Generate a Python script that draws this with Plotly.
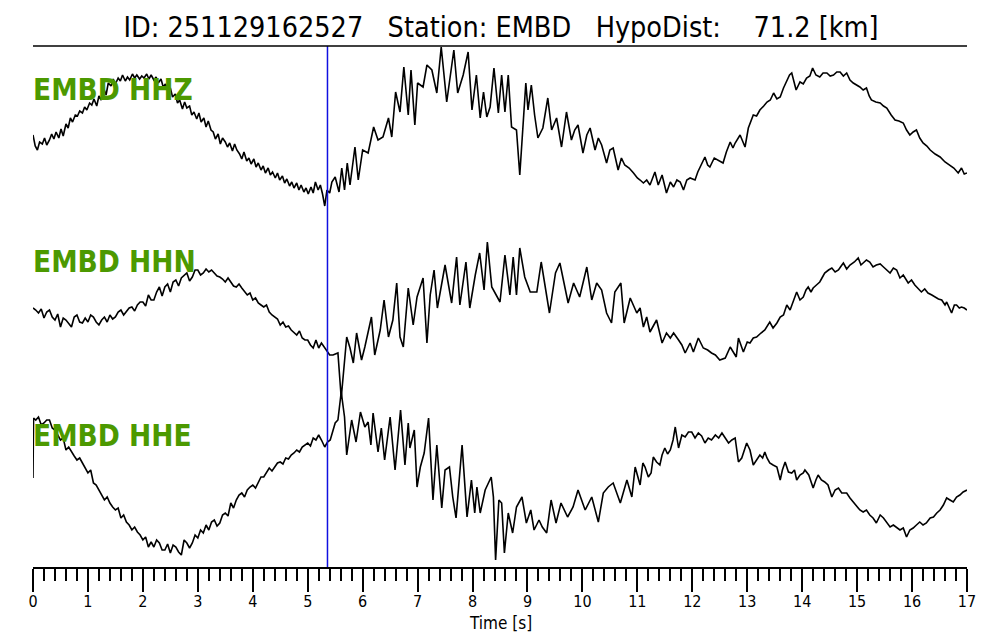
import plotly.graph_objects as go

# ---------------- data ----------------
EVENT_ID = "251129162527"
STATION = "EMBD"
HYPO_DIST_KM = 71.2
P_PICK_S = 5.36
CHANNELS = ["HHZ", "HHN", "HHE"]
X_TICKS = list(range(0, 18))
X_TITLE = "Time [s]"

# (time [s], amplitude [arb. units, up positive])
HHZ = [(0.00,-5),(0.04,-16),(0.08,-20),(0.12,-12),(0.17,-14),(0.21,-8),(0.25,-15),(0.30,-10),(0.34,-4),(0.38,-9),
(0.42,-2),(0.47,-8),(0.51,1),(0.55,-6),(0.60,6),(0.64,2),(0.68,12),(0.72,8),(0.77,15),(0.81,14),(0.85,19),(0.90,17),
(0.94,23),(0.98,20),(1.03,27),(1.07,25),(1.11,31),(1.16,24),(1.20,34),(1.24,30),(1.29,41),(1.33,35),(1.37,47),(1.42,44),
(1.46,51),(1.50,46),(1.55,52),(1.59,49),(1.63,55),(1.68,49),(1.72,53),(1.76,50),(1.81,56),(1.85,52),(1.89,55),(1.94,51),
(1.98,54),(2.02,52),(2.07,56),(2.11,51),(2.15,55),(2.20,50),(2.24,53),(2.28,47),(2.33,51),(2.37,43),(2.41,46),(2.46,39),
(2.50,42),(2.54,33),(2.59,36),(2.63,27),(2.67,30),(2.72,21),(2.76,28),(2.80,22),(2.85,24),(2.89,15),(2.93,18),(2.98,11),
(3.02,17),(3.06,8),(3.11,12),(3.15,3),(3.19,9),(3.24,0),(3.28,-2),(3.32,-9),(3.37,-4),(3.41,-14),(3.45,-8),(3.50,-12),
(3.54,-17),(3.58,-13),(3.63,-21),(3.67,-14),(3.71,-20),(3.76,-24),(3.80,-29),(3.84,-22),(3.89,-31),(3.93,-28),(3.97,-34),
(4.02,-29),(4.06,-37),(4.10,-33),(4.15,-40),(4.19,-36),(4.23,-43),(4.28,-38),(4.32,-45),(4.36,-42),(4.41,-48),(4.45,-43),
(4.49,-50),(4.54,-46),(4.58,-53),(4.62,-49),(4.67,-56),(4.71,-52),(4.75,-58),(4.80,-53),(4.84,-60),(4.88,-55),(4.93,-62),
(4.97,-58),(5.01,-64),(5.06,-57),(5.10,-63),(5.14,-52),(5.19,-60),(5.23,-55),(5.27,-64),(5.31,-76),(5.35,-60),(5.40,-63),
(5.44,-52),(5.50,-47),(5.57,-62),(5.62,-38),(5.67,-60),(5.72,-33),(5.77,-55),(5.86,-17),(5.92,-50),(6.00,-20),(6.10,-23),
(6.20,3),(6.28,-10),(6.37,-7),(6.47,12),(6.53,-7),(6.60,38),(6.68,18),(6.75,63),(6.83,15),(6.88,60),(6.95,5),(7.00,47),
(7.10,43),(7.17,65),(7.26,60),(7.35,37),(7.43,83),(7.53,28),(7.62,63),(7.66,80),(7.73,37),(7.83,55),(7.92,78),(7.99,20),
(8.07,55),(8.14,12),(8.20,38),(8.26,13),(8.32,23),(8.39,62),(8.47,17),(8.53,55),(8.59,18),(8.65,55),(8.71,3),(8.80,0),
(8.86,-45),(8.92,10),(8.97,47),(9.01,20),(9.07,45),(9.13,15),(9.19,-8),(9.28,2),(9.37,32),(9.44,0),(9.53,12),(9.62,-17),
(9.71,18),(9.80,-10),(9.86,0),(9.92,5),(10.01,-23),(10.08,-5),(10.14,2),(10.23,-20),(10.29,-8),(10.35,-15),(10.44,-33),
(10.50,-20),(10.56,-18),(10.65,-40),(10.71,-28),(10.77,-35),(10.85,-38),(10.93,-43),(11.00,-48),(11.05,-50),(11.11,-53),
(11.17,-50),(11.23,-55),(11.32,-42),(11.38,-55),(11.45,-45),(11.53,-63),(11.60,-52),(11.66,-57),(11.72,-50),(11.78,-52),
(11.84,-60),(11.90,-50),(11.96,-48),(12.05,-50),(12.10,-42),(12.14,-37),(12.23,-27),(12.28,-35),(12.32,-37),(12.40,-28),
(12.47,-30),(12.56,-33),(12.62,-22),(12.69,-12),(12.74,-18),(12.78,-13),(12.87,-5),(12.96,-17),(13.02,2),(13.08,10),
(13.11,15),(13.17,14),(13.23,20),(13.30,24),(13.36,28),(13.42,30),(13.48,37),(13.54,31),(13.60,33),(13.66,42),(13.72,50),
(13.77,55),(13.81,57),(13.89,40),(13.96,48),(14.02,46),(14.08,52),(14.14,54),(14.19,62),(14.25,55),(14.32,53),(14.38,57),
(14.45,57),(14.51,54),(14.57,55),(14.63,58),(14.69,58),(14.75,54),(14.81,57),(14.87,50),(14.93,47),(14.99,45),(15.05,43),
(15.11,40),(15.17,42),(15.22,34),(15.26,30),(15.34,28),(15.42,27),(15.48,24),(15.54,22),(15.62,15),(15.69,10),(15.76,9),
(15.84,7),(15.90,0),(15.96,-5),(16.02,-2),(16.08,0),(16.14,-8),(16.20,-13),(16.27,-16),(16.33,-20),(16.42,-24),(16.51,-27),
(16.60,-32),(16.69,-35),(16.76,-38),(16.84,-43),(16.90,-38),(16.95,-44),(17.00,-43)]

HHN = [(0.00,-8),(0.05,-10),(0.10,-13),(0.15,-9),(0.20,-18),(0.25,-12),(0.30,-10),(0.35,-17),(0.40,-20),(0.45,-14),
(0.50,-27),(0.55,-18),(0.60,-20),(0.65,-24),(0.70,-27),(0.75,-17),(0.80,-15),(0.85,-22),(0.90,-23),(0.95,-18),(1.00,-22),
(1.05,-15),(1.10,-17),(1.15,-22),(1.20,-25),(1.25,-20),(1.30,-17),(1.35,-22),(1.40,-15),(1.45,-19),(1.50,-17),(1.55,-12),
(1.60,-10),(1.65,-15),(1.70,-12),(1.75,-8),(1.80,-7),(1.85,-11),(1.90,-5),(1.95,-2),(2.00,-2),(2.05,-6),(2.10,5),(2.15,0),
(2.20,0),(2.25,8),(2.30,13),(2.35,4),(2.40,13),(2.45,16),(2.50,8),(2.55,18),(2.60,20),(2.65,14),(2.70,22),(2.75,25),
(2.80,27),(2.85,19),(2.90,23),(2.95,30),(3.00,30),(3.05,25),(3.10,27),(3.15,31),(3.20,28),(3.25,30),(3.30,27),(3.35,24),
(3.40,23),(3.45,21),(3.50,18),(3.55,22),(3.60,18),(3.65,14),(3.70,13),(3.75,16),(3.80,12),(3.85,8),(3.90,5),(3.95,7),
(4.00,0),(4.05,2),(4.10,-3),(4.15,-5),(4.20,-7),(4.25,-5),(4.30,-12),(4.35,-15),(4.40,-17),(4.45,-19),(4.50,-25),(4.55,-22),
(4.60,-27),(4.65,-26),(4.70,-30),(4.75,-33),(4.80,-35),(4.85,-31),(4.90,-38),(4.95,-40),(5.00,-40),(5.05,-45),(5.10,-48),
(5.15,-40),(5.20,-48),(5.25,-43),(5.30,-47),(5.35,-52),(5.40,-55),(5.46,-55),(5.55,-53),(5.61,-98),(5.71,-37),(5.77,-48),
(5.83,-63),(5.89,-33),(5.98,-60),(6.04,-47),(6.16,-17),(6.22,-55),(6.32,-30),(6.39,0),(6.47,-37),(6.55,-20),(6.62,17),
(6.68,-37),(6.74,-47),(6.83,12),(6.92,-25),(6.99,3),(7.10,22),(7.17,-43),(7.23,5),(7.30,30),(7.36,-8),(7.50,35),(7.62,-3),
(7.71,43),(7.77,-5),(7.88,38),(7.95,-8),(8.05,25),(8.13,47),(8.21,10),(8.27,58),(8.35,13),(8.50,-2),(8.59,45),(8.68,5),
(8.74,43),(8.80,5),(8.86,52),(8.95,23),(9.05,8),(9.17,8),(9.25,38),(9.33,13),(9.40,-13),(9.51,27),(9.59,37),(9.68,13),
(9.74,-3),(9.84,17),(9.95,3),(10.08,33),(10.17,0),(10.26,17),(10.35,10),(10.44,-13),(10.53,-23),(10.59,8),(10.70,17),
(10.76,-23),(10.87,2),(10.99,-13),(11.05,-8),(11.11,-27),(11.17,-17),(11.23,-32),(11.30,-25),(11.35,-20),(11.45,-43),
(11.53,-33),(11.60,-38),(11.66,-33),(11.75,-40),(11.81,-45),(11.87,-53),(11.96,-43),(12.02,-52),(12.11,-38),(12.20,-48),
(12.28,-50),(12.35,-53),(12.42,-55),(12.50,-60),(12.60,-58),(12.69,-47),(12.75,-52),(12.80,-57),(12.84,-38),(12.93,-52),
(13.00,-42),(13.05,-43),(13.11,-38),(13.17,-37),(13.25,-33),(13.32,-30),(13.41,-22),(13.47,-28),(13.54,-23),(13.60,-17),
(13.66,-15),(13.72,-5),(13.78,-10),(13.84,0),(13.90,8),(13.96,0),(14.02,3),(14.07,10),(14.11,13),(14.16,8),(14.20,12),
(14.26,15),(14.32,18),(14.36,22),(14.41,27),(14.48,30),(14.54,32),(14.60,28),(14.66,30),(14.71,34),(14.75,37),(14.81,31),
(14.87,35),(14.95,38),(15.02,42),(15.07,35),(15.11,37),(15.17,40),(15.23,38),(15.29,33),(15.35,35),(15.42,36),(15.48,33),
(15.54,30),(15.60,27),(15.66,32),(15.72,30),(15.78,22),(15.84,25),(15.93,17),(15.99,20),(16.05,15),(16.11,12),(16.17,8),
(16.23,11),(16.29,7),(16.36,5),(16.42,3),(16.48,1),(16.54,0),(16.60,-5),(16.63,-2),(16.72,-13),(16.77,-5),(16.81,-5),
(16.86,-8),(16.90,-7),(16.95,-8),(17.00,-10)]

HHE = [(0.00,2),(0.01,62),(0.05,60),(0.10,63),(0.15,55),(0.20,57),(0.25,60),(0.30,60),(0.35,52),(0.40,50),(0.45,45),
(0.50,40),(0.55,42),(0.60,30),(0.65,33),(0.70,28),(0.75,24),(0.80,20),(0.85,22),(0.90,17),(0.95,12),(1.00,7),(1.05,10),
(1.10,-3),(1.15,-5),(1.20,-10),(1.25,-14),(1.30,-20),(1.35,-17),(1.40,-23),(1.45,-27),(1.50,-30),(1.55,-28),(1.60,-38),
(1.65,-35),(1.70,-42),(1.75,-45),(1.80,-50),(1.85,-47),(1.90,-52),(1.95,-55),(2.00,-60),(2.05,-57),(2.10,-67),(2.15,-62),
(2.20,-67),(2.25,-60),(2.30,-63),(2.35,-70),(2.40,-70),(2.45,-64),(2.50,-73),(2.55,-65),(2.60,-67),(2.65,-72),(2.70,-75),
(2.75,-60),(2.80,-63),(2.85,-68),(2.90,-63),(2.95,-55),(3.00,-58),(3.05,-50),(3.10,-53),(3.15,-45),(3.20,-50),(3.25,-42),
(3.30,-40),(3.35,-46),(3.40,-43),(3.45,-35),(3.50,-33),(3.55,-36),(3.60,-23),(3.65,-28),(3.70,-20),(3.75,-15),(3.80,-13),
(3.85,-17),(3.90,-10),(3.95,-7),(4.00,-5),(4.05,-8),(4.10,-2),(4.15,3),(4.20,3),(4.25,8),(4.30,12),(4.35,9),(4.40,13),
(4.45,17),(4.50,18),(4.55,16),(4.60,22),(4.65,21),(4.70,25),(4.75,27),(4.80,30),(4.85,28),(4.90,33),(4.95,35),(5.00,37),
(5.05,34),(5.10,42),(5.15,40),(5.20,45),(5.25,40),(5.31,33),(5.36,38),(5.41,40),(5.50,57),(5.55,60),(5.61,88),(5.67,63),
(5.71,25),(5.80,60),(5.88,38),(5.96,68),(6.04,53),(6.10,58),(6.15,35),(6.19,67),(6.28,28),(6.34,52),(6.40,20),(6.50,63),
(6.59,10),(6.69,70),(6.77,15),(6.83,57),(6.86,32),(6.94,50),(6.99,-7),(7.05,13),(7.12,27),(7.20,62),(7.28,-20),(7.35,35),
(7.44,-28),(7.50,10),(7.58,13),(7.64,-17),(7.70,-38),(7.81,35),(7.90,-37),(7.98,0),(8.04,-33),(8.08,-7),(8.14,-33),
(8.23,-10),(8.34,3),(8.38,-17),(8.42,-80),(8.48,-20),(8.53,-23),(8.58,-73),(8.65,-33),(8.73,-53),(8.80,-27),(8.90,-17),
(8.98,-43),(9.06,-30),(9.12,-50),(9.21,-40),(9.27,-47),(9.35,-53),(9.43,-20),(9.52,-43),(9.61,-23),(9.73,-37),(9.83,-27),
(9.92,-10),(10.05,-30),(10.17,-17),(10.29,-42),(10.38,-13),(10.47,-7),(10.56,-3),(10.69,-23),(10.81,0),(10.90,-17),
(10.96,13),(11.05,-5),(11.10,17),(11.14,13),(11.20,3),(11.25,7),(11.29,23),(11.35,18),(11.41,15),(11.45,25),(11.50,32),
(11.55,26),(11.60,30),(11.65,40),(11.69,53),(11.75,32),(11.81,45),(11.87,43),(11.93,48),(11.99,48),(12.05,42),(12.11,47),
(12.17,44),(12.23,37),(12.29,42),(12.35,40),(12.42,45),(12.48,42),(12.54,47),(12.60,42),(12.66,37),(12.72,40),(12.78,42),
(12.84,18),(12.90,22),(12.99,37),(13.05,30),(13.11,15),(13.17,20),(13.23,25),(13.28,22),(13.32,28),(13.36,22),(13.41,17),
(13.47,15),(13.54,13),(13.60,0),(13.64,10),(13.69,18),(13.75,8),(13.81,7),(13.86,10),(13.90,0),(13.96,5),(14.02,7),
(14.05,10),(14.12,5),(14.20,-8),(14.25,0),(14.29,5),(14.35,0),(14.41,-2),(14.47,-5),(14.54,-17),(14.60,-10),(14.66,-8),
(14.72,-13),(14.81,-13),(14.87,-18),(14.93,-22),(14.99,-27),(15.05,-30),(15.11,-32),(15.17,-30),(15.23,-35),(15.29,-38),
(15.35,-43),(15.42,-35),(15.48,-38),(15.54,-42),(15.60,-47),(15.66,-45),(15.72,-48),(15.78,-50),(15.84,-48),(15.90,-57),
(15.96,-50),(16.02,-48),(16.08,-45),(16.14,-42),(16.20,-45),(16.26,-43),(16.33,-38),(16.39,-37),(16.45,-33),(16.51,-30),
(16.57,-25),(16.63,-18),(16.69,-20),(16.75,-22),(16.81,-17),(16.87,-15),(16.93,-12),(17.00,-10)]

TRACES = {"HHZ": HHZ, "HHN": HHN, "HHE": HHE}

# ---------------- layout constants ----------------
OFFSETS = {"HHZ": 437, "HHN": 267, "HHE": 87}
LABEL_Y = {"HHZ": 477, "HHN": 305, "HHE": 131}
GREEN = "#4c9900"
FONT = "DejaVu Sans Condensed, DejaVu Sans, sans-serif"
FIG_W, FIG_H = 992, 632

fig = go.Figure()
for ch in CHANNELS:
    t = [p[0] for p in TRACES[ch]]
    a = [p[1] + OFFSETS[ch] for p in TRACES[ch]]
    fig.add_trace(go.Scatter(x=t, y=a, mode="lines",
                             line=dict(color="black", width=1.6),
                             showlegend=False, hoverinfo="skip"))
    fig.add_annotation(x=0, y=LABEL_Y[ch], xref="x", yref="y",
                       text=f"<b>{STATION} {ch}</b>", showarrow=False,
                       xanchor="left", yanchor="middle", xshift=-2,
                       font=dict(family=FONT, size=29.5, color=GREEN))

# axis title placed explicitly
fig.add_annotation(x=0.5, y=0, xref="paper", yref="paper", text=X_TITLE,
                   showarrow=False, xanchor="center", yanchor="middle",
                   yshift=-56, borderpad=0,
                   font=dict(family=FONT, size=17, color="black"))

# P pick
fig.add_shape(type="line", xref="x", yref="paper", x0=P_PICK_S, x1=P_PICK_S,
              y0=0, y1=1, line=dict(color="#1010e0", width=1.5), layer="above")
# line under title
fig.add_shape(type="line", xref="paper", yref="paper", x0=0, x1=1, y0=1, y1=1,
              line=dict(color="black", width=1.5))

nb = "\u00a0"
title = (f"ID: {EVENT_ID}{nb*3}Station: {STATION}{nb*3}"
         f"HypoDist:{nb*4}{HYPO_DIST_KM:.1f} [km]")

fig.update_layout(
    width=FIG_W, height=FIG_H,
    margin=dict(l=25, r=33, t=38, b=73, autoexpand=False),
    paper_bgcolor="white", plot_bgcolor="white",
    title=dict(text=title, x=493 / FIG_W, xanchor="center", y=1 - 19 / FIG_H,
               yanchor="middle", font=dict(family=FONT, size=28.5, color="black")),
    xaxis=dict(range=[0, 17], tickmode="array", tickvals=X_TICKS,
               ticktext=[str(v) for v in X_TICKS],
               ticks="outside", ticklen=23, tickwidth=2, tickcolor="black",
               ticklabelstandoff=-4,
               showline=True, linewidth=2, linecolor="black",
               showgrid=False, zeroline=False,
               tickfont=dict(family=FONT, size=16, color="black"),
               minor=dict(dtick=0.2, tick0=0, ticks="outside", ticklen=12,
                          tickwidth=2, tickcolor="black", showgrid=False)),
    yaxis=dict(range=[0, 521], visible=False, fixedrange=True),
)

fig.write_html("out.html")
